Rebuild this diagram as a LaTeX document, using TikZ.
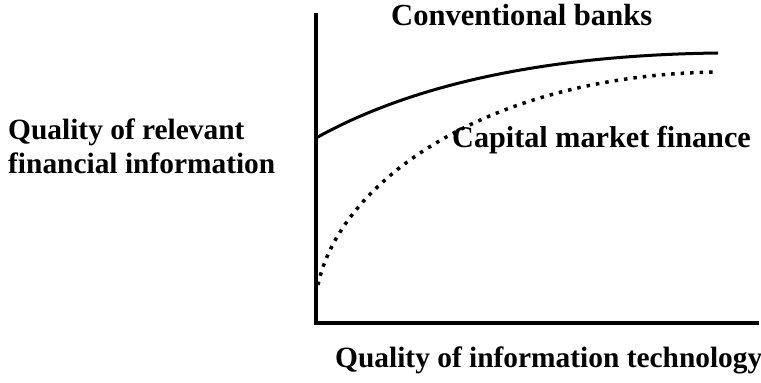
\documentclass[tikz,border=0pt]{standalone}
\usepackage{fontspec}
\setmainfont{Liberation Serif}
\usepackage{tikz}
\usetikzlibrary{positioning}

\begin{document}
\begin{tikzpicture}[x=1pt,y=1pt]
            \useasboundingbox (0,0) rectangle (761,383);

            \coordinate (O) at (316,60);
            \coordinate (Y) at (316,368);
            \coordinate (X) at (757,60);

            \begin{scope}[every node/.style={inner sep=0pt,font=\bfseries\fontsize{29.4}{34}\selectfont}]
                \node (banks) [anchor=base west,font=\bfseries\fontsize{30.6}{34}\selectfont] at (391,357) {Conventional banks};
                \node (market) [anchor=base west,font=\bfseries\fontsize{30.2}{34}\selectfont] at (452,235) {Capital market finance};
                \node (yl1) [anchor=base west] at (8,243) {Quality of relevant};
                \node (yl2) [anchor=base west] at (8,209) {financial information};
                \node (xl) [anchor=base west] at (335,15) {Quality of information technology};
            \end{scope}

            \begin{scope}[line cap=rect]
                \draw [line width=4pt] (Y) -- (O) -- (X);
            \end{scope}

            \begin{scope}[every path/.style={draw=black}]
                \path [line width=3pt] (316,245) .. controls (420,303) and (560,328) .. (718,330);
                \path [line width=3.5pt,dash pattern=on 3.5pt off 6pt] (318,98) .. controls (340,203) and (490,308) .. (717,311);
            \end{scope}
        \end{tikzpicture}
\end{document}
